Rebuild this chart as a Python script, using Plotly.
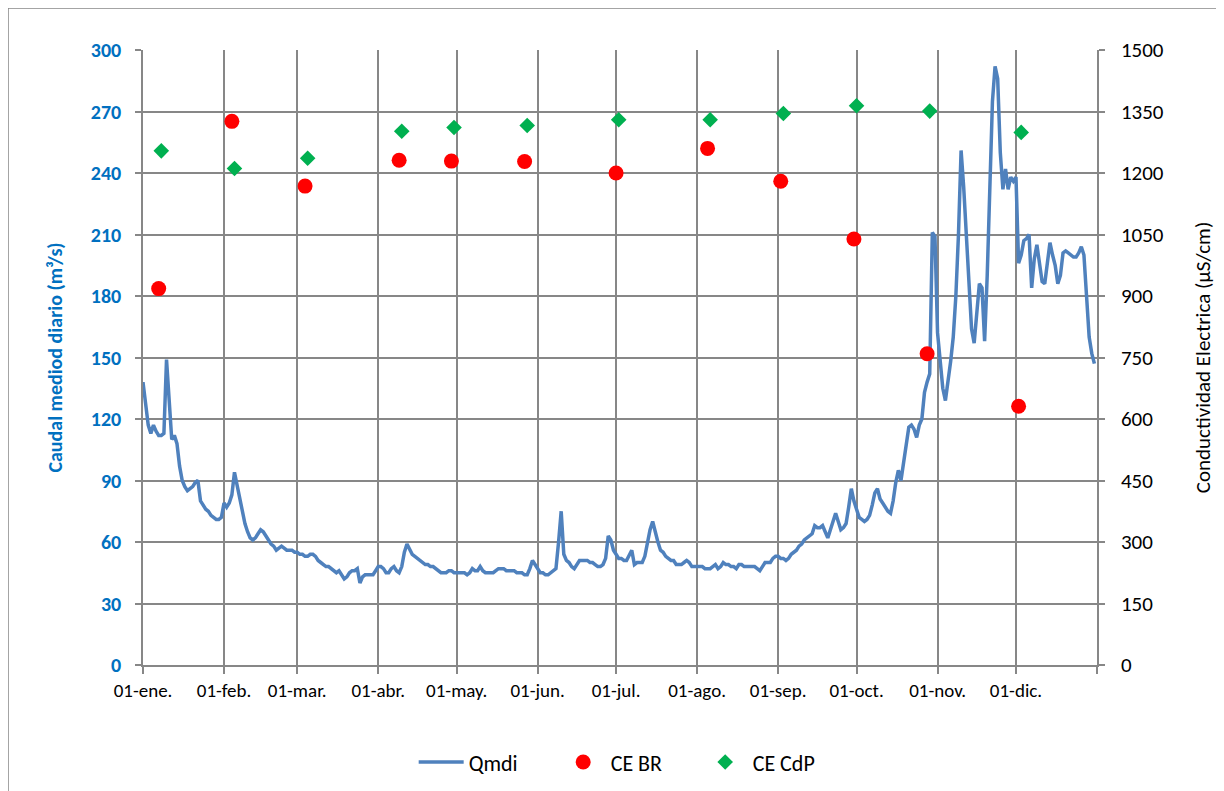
import plotly.graph_objects as go
import pandas as pd

# ---------------- data ----------------
year_start = "2013-01-01"
month_ticks = ["2013-01-01", "2013-02-01", "2013-03-01", "2013-04-01", "2013-05-01", "2013-06-01",
               "2013-07-01", "2013-08-01", "2013-09-01", "2013-10-01", "2013-11-01", "2013-12-01",
               "2014-01-01"]
month_labels = ["01-ene.", "01-feb.", "01-mar.", "01-abr.", "01-may.", "01-jun.",
                "01-jul.", "01-ago.", "01-sep.", "01-oct.", "01-nov.", "01-dic.", ""]

# Daily mean discharge (m3/s), one value per day from 01-ene.
qmdi = [
    138, 127, 117, 113, 117, 114, 112, 112, 113, 149,   # 0-9
    128, 110, 112, 108, 97, 90, 87, 85, 86, 87,         # 10-19
    89, 90, 80, 78, 76, 75, 73, 72, 71, 71,             # 20-29
    72, 79, 77, 79, 83, 94, 88, 80, 74, 69,             # 30-39
    65, 62, 61, 62, 64, 66, 65, 63, 61, 59,             # 40-49
    58, 56, 57, 58, 57, 56, 56, 56, 55, 55,             # 50-59
    54, 54, 53, 53, 54, 54, 53, 51, 50, 49,             # 60-69
    48, 48, 47, 46, 45, 46, 44, 42, 43, 45,             # 70-79
    46, 46, 47, 40, 43, 44, 44, 44, 44, 46,             # 80-89
    48, 48, 47, 45, 45, 47, 48, 46, 45, 48,             # 90-99
    55, 59, 56, 54, 53, 52, 51, 50, 49, 49,             # 100-109
    48, 48, 47, 46, 45, 45, 45, 46, 46, 45,             # 110-119
    45, 45, 45, 45, 44, 45, 47, 46, 46, 48,             # 120-129
    46, 45, 45, 45, 45, 46, 47, 47, 47, 46,             # 130-139
    46, 46, 46, 45, 45, 45, 44, 44, 47, 51,             # 140-149
    49, 47, 45, 45, 44, 44, 45, 46, 47, 60,             # 150-159
    75, 54, 51, 50, 48, 47, 49, 51, 51, 51,             # 160-169
    51, 50, 50, 49, 48, 48, 49, 52, 63, 61,             # 170-179
    56, 54, 52, 52, 51, 51, 54, 56, 49, 50,             # 180-189
    50, 50, 53, 60, 66, 70, 64, 60, 56, 55,             # 190-199
    53, 52, 51, 51, 49, 49, 49, 50, 51, 50,             # 200-209
    48, 48, 48, 48, 48, 47, 47, 47, 48, 49,             # 210-219
    47, 48, 50, 49, 49, 48, 48, 47, 49, 49,             # 220-229
    48, 48, 48, 48, 48, 47, 46, 48, 50, 50,             # 230-239
    50, 52, 53, 53, 52, 52, 51, 52, 54, 55,             # 240-249
    56, 58, 59, 61, 62, 63, 64, 68, 67, 67,             # 250-259
    68, 65, 62, 66, 70, 74, 70, 66, 67, 69,             # 260-269
    77, 86, 80, 76, 72, 71, 70, 71, 73, 78,             # 270-279
    84, 86, 81, 79, 77, 75, 74, 80, 89, 95,             # 280-289
    90, 98, 108, 116, 117, 115, 111, 117, 120, 133,     # 290-299
    138, 142, 211, 209, 162, 148, 135, 129, 138, 148,   # 300-309
    160, 180, 210, 251, 233, 210, 190, 164, 157, 172,   # 310-319
    186, 184, 158, 190, 235, 275, 292, 286, 250, 232,   # 320-329
    242, 232, 238, 236, 238, 196, 200, 207, 208, 210,   # 330-339
    184, 198, 205, 196, 187, 186, 196, 206, 200, 195,   # 340-349
    186, 190, 201, 202, 201, 200, 199, 199, 201, 204,   # 350-359
    200, 180, 160, 152, 147,                            # 360-364
]

# Electrical conductivity samples (uS/cm)
br_dates = ["2013-01-07", "2013-02-04", "2013-03-04", "2013-04-09", "2013-04-29", "2013-05-27",
            "2013-07-01", "2013-08-05", "2013-09-02", "2013-09-30", "2013-10-28", "2013-12-02"]
br_values = [918, 1326, 1168, 1231, 1229, 1228, 1200, 1260, 1180, 1039, 759, 631]

cdp_dates = ["2013-01-08", "2013-02-05", "2013-03-05", "2013-04-10", "2013-04-30", "2013-05-28",
             "2013-07-02", "2013-08-06", "2013-09-03", "2013-10-01", "2013-10-29", "2013-12-03"]
cdp_values = [1254, 1211, 1236, 1302, 1311, 1316, 1330, 1330, 1345, 1364, 1351, 1299]

# ---------------- figure ----------------
dates = pd.date_range(year_start, periods=len(qmdi), freq="D")

FONT = "Calibri, Carlito, Lato, sans-serif"
GRID = "#878787"
BLUE_TXT = "#0070C0"

# page body has an 8px margin, so the figure is placed 8px right/down
ML, MT = 135, 42
PLOT_W, PLOT_H = 954, 615

fig = go.Figure()
fig.add_trace(go.Scatter(x=dates, y=qmdi, mode="lines", name="Qmdi",
                         line=dict(color="#4F81BD", width=3.5)))
fig.add_trace(go.Scatter(x=br_dates, y=br_values, mode="markers", name="CE BR", yaxis="y2",
                         marker=dict(color="#FF0000", size=15, symbol="circle")))
fig.add_trace(go.Scatter(x=cdp_dates, y=cdp_values, mode="markers", name="CE CdP", yaxis="y2",
                         marker=dict(color="#00B050", size=12, symbol="diamond")))

fig.update_layout(
    width=1224, height=791,
    margin=dict(l=ML, r=1224 - ML - PLOT_W, t=MT, b=791 - MT - PLOT_H),
    paper_bgcolor="white", plot_bgcolor="white",
    font=dict(family=FONT, size=20, color="black"),
    showlegend=True,
    legend=dict(orientation="h", x=0.507, xanchor="center", y=-0.158, yanchor="middle",
                font=dict(size=22, color="black", family=FONT), itemwidth=45,
                entrywidth=82, entrywidthmode="pixels",
                bgcolor="rgba(0,0,0,0)"),
    xaxis=dict(
        type="date", range=["2013-01-01", "2014-01-01"],
        tickmode="array", tickvals=month_ticks, ticktext=month_labels, tickangle=0,
        showgrid=True, gridcolor=GRID, gridwidth=1.5,
        ticks="outside", ticklen=7, tickcolor=GRID, tickwidth=1.5,
        showline=True, linecolor=GRID, linewidth=1.5,
        tickfont=dict(size=19, color="black", family=FONT),
        zeroline=False,
    ),
    yaxis=dict(
        range=[0, 300], tickmode="linear", tick0=0, dtick=30,
        showgrid=True, gridcolor=GRID, gridwidth=1.5,
        ticks="outside", ticklen=6, tickcolor=GRID, tickwidth=1.5,
        showline=True, linecolor=GRID, linewidth=1.5,
        zeroline=False,
        ticklabelstandoff=10,
        tickfont=dict(size=20, color=BLUE_TXT, family=FONT, weight="bold"),
        title=dict(text="Caudal mediod diario (m³/s)", standoff=23,
                   font=dict(size=20, color=BLUE_TXT, family=FONT, weight="bold")),
    ),
    yaxis2=dict(
        overlaying="y", side="right",
        range=[0, 1500], tickmode="linear", tick0=0, dtick=150,
        showgrid=False, zeroline=False,
        ticks="outside", ticklen=6, tickcolor=GRID, tickwidth=1.5,
        showline=True, linecolor=GRID, linewidth=1.5,
        ticklabelstandoff=12,
        tickfont=dict(size=21, color="black", family=FONT),
        title=dict(text="Conductividad Electrica (µS/cm)", standoff=32,
                   font=dict(size=21, color="black", family=FONT)),
    ),
    shapes=[
        dict(type="rect", xref="paper", yref="paper",
             x0=(0 - ML) / PLOT_W, x1=1.3, y0=-0.4, y1=(MT + PLOT_H - 0) / PLOT_H,
             line=dict(color=GRID, width=1.5), fillcolor="rgba(0,0,0,0)", layer="below"),
    ],
)

fig.write_html("out.html")
